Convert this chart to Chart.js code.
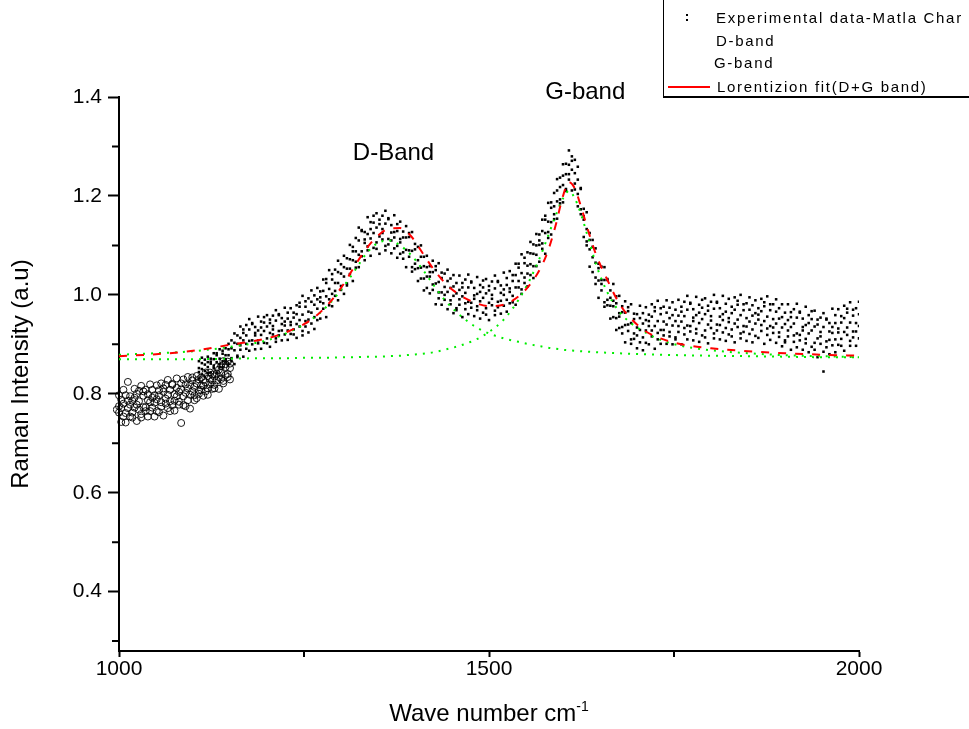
<!DOCTYPE html>
<html>
<head>
<meta charset="utf-8">
<title>Raman spectrum</title>
<script src="https://cdn.jsdelivr.net/npm/chart.js@4.4.1/dist/chart.umd.min.js"></script>
<style>
    html, body { margin: 0; padding: 0; background: #fff; overflow: hidden; }
    #wrap { position: relative; width: 969px; height: 729px; font-family: "Liberation Sans", Arial, sans-serif; }
    #chart { position: absolute; left: 0; top: 0; }
    .legend { position: absolute; left: 663px; top: 0; width: 320px; height: 96px; border-left: 1px solid #000; border-bottom: 2px solid #000; }
    .legend .row { position: absolute; left: 52px; font-size: 15px; letter-spacing: 1.7px; line-height: 20px; white-space: nowrap; color: #000; }
    .legend .dot { position: absolute; width: 2px; height: 2px; background: #000; }
    .legend .fitline { position: absolute; left: 4px; top: 86px; width: 42px; height: 2px; background: #ff0000; }
    .xtitle { position: absolute; left: 0; width: 978px; top: 699px; text-align: center; font-size: 24px; color: #000; white-space: nowrap; }
    .xtitle sup { font-size: 14px; vertical-align: 10px; line-height: 0; }
</style>
</head>
<body>
<div id="wrap">
    <canvas id="chart" width="969" height="729"></canvas>
    <div class="legend">
        <div class="dot" style="left:22px;top:14px"></div>
        <div class="dot" style="left:22px;top:19px"></div>
        <div class="row" style="top:8px">Experimental data-Matla Char</div>
        <div class="row" style="top:31px">D-band</div>
        <div class="row" style="top:53px;left:50px">G-band</div>
        <div class="fitline"></div>
        <div class="row" style="top:77px;left:53px">Lorentizion fit(D+G band)</div>
    </div>
    <div class="xtitle">Wave number cm<sup>-1</sup></div>
</div>
<script>
// axis ticks
const xTicks = [1000, 1500, 2000];
const xMinorTicks = [1250, 1750];
const yTicks = [0.4, 0.6, 0.8, 1.0, 1.2, 1.4];
const yMinorTicks = [0.3, 0.5, 0.7, 0.9, 1.1, 1.3];

// experimental data (black dots), four readings per wave number
const expWave = [
    1108, 1112, 1116, 1120, 1124, 1128, 1132, 1136, 1140, 1144, 1148, 1152, 1156, 1160, 1164, 1168, 1172, 1176, 1180, 1184,
    1188, 1192, 1196, 1200, 1204, 1208, 1212, 1216, 1220, 1224, 1228, 1232, 1236, 1240, 1244, 1248, 1252, 1256, 1260, 1264,
    1268, 1272, 1276, 1280, 1284, 1288, 1292, 1296, 1300, 1304, 1308, 1312, 1316, 1320, 1324, 1328, 1332, 1336, 1340, 1344,
    1348, 1352, 1356, 1360, 1364, 1368, 1372, 1376, 1380, 1384, 1388, 1392, 1396, 1400, 1404, 1408, 1412, 1416, 1420, 1424,
    1428, 1432, 1436, 1440, 1444, 1448, 1452, 1456, 1460, 1464, 1468, 1472, 1476, 1480, 1484, 1488, 1492, 1496, 1500, 1504,
    1508, 1512, 1516, 1520, 1524, 1528, 1532, 1536, 1540, 1544, 1548, 1552, 1556, 1560, 1564, 1568, 1572, 1576, 1580, 1584,
    1588, 1592, 1596, 1600, 1604, 1608, 1612, 1616, 1620, 1624, 1628, 1632, 1636, 1640, 1644, 1648, 1652, 1656, 1660, 1664,
    1668, 1672, 1676, 1680, 1684, 1688, 1692, 1696, 1700, 1704, 1708, 1712, 1716, 1720, 1724, 1728, 1732, 1736, 1740, 1744,
    1748, 1752, 1756, 1760, 1764, 1768, 1772, 1776, 1780, 1784, 1788, 1792, 1796, 1800, 1804, 1808, 1812, 1816, 1820, 1824,
    1828, 1832, 1836, 1840, 1844, 1848, 1852, 1856, 1860, 1864, 1868, 1872, 1876, 1880, 1884, 1888, 1892, 1896, 1900, 1904,
    1908, 1912, 1916, 1920, 1924, 1928, 1932, 1936, 1940, 1944, 1948, 1952, 1956, 1960, 1964, 1968, 1972, 1976, 1980, 1984,
    1988, 1992, 1996, 2000
];
const expIntensity = [
    [0.866, 0.844, 0.852, 0.831], [0.862, 0.850, 0.873, 0.839], [0.859, 0.846, 0.869, 0.834], [0.864, 0.854, 0.875, 0.842],
    [0.861, 0.871, 0.843, 0.865], [0.852, 0.882, 0.857, 0.870], [0.843, 0.878, 0.864, 0.882], [0.860, 0.871, 0.854, 0.890],
    [0.854, 0.881, 0.866, 0.887], [0.865, 0.892, 0.870, 0.878], [0.861, 0.890, 0.878, 0.901], [0.866, 0.892, 0.872, 0.908],
    [0.860, 0.903, 0.888, 0.922], [0.877, 0.901, 0.918, 0.874], [0.913, 0.889, 0.936, 0.898], [0.923, 0.875, 0.930, 0.908],
    [0.939, 0.901, 0.918, 0.891], [0.951, 0.887, 0.930, 0.907], [0.941, 0.900, 0.943, 0.908], [0.923, 0.890, 0.935, 0.918],
    [0.956, 0.902, 0.928, 0.908], [0.946, 0.891, 0.934, 0.919], [0.955, 0.903, 0.927, 0.944], [0.902, 0.936, 0.912, 0.959],
    [0.923, 0.943, 0.895, 0.950], [0.930, 0.958, 0.920, 0.937], [0.912, 0.969, 0.905, 0.948], [0.927, 0.959, 0.918, 0.961],
    [0.928, 0.941, 0.908, 0.953], [0.938, 0.974, 0.920, 0.946], [0.928, 0.964, 0.909, 0.952], [0.939, 0.973, 0.921, 0.945],
    [0.964, 0.920, 0.954, 0.930], [0.979, 0.941, 0.961, 0.913], [0.976, 0.949, 0.984, 0.936], [0.960, 0.927, 0.998, 0.918],
    [0.976, 0.947, 0.987, 0.936], [0.993, 0.950, 0.966, 0.924], [0.986, 0.964, 1.009, 0.942], [0.980, 0.955, 0.999, 0.931],
    [0.991, 0.972, 1.014, 0.949], [0.986, 1.007, 0.952, 0.995], [0.972, 1.031, 0.983, 1.008], [0.955, 1.024, 0.997, 1.032],
    [0.991, 1.012, 0.979, 1.050], [0.977, 1.031, 1.002, 1.042], [0.998, 1.051, 1.008, 1.024], [0.989, 1.046, 1.024, 1.069],
    [1.010, 1.043, 1.018, 1.062], [1.002, 1.056, 1.037, 1.079], [1.023, 1.053, 1.074, 1.019], [1.072, 1.042, 1.101, 1.053],
    [1.088, 1.028, 1.097, 1.070], [1.115, 1.067, 1.088, 1.055], [1.136, 1.056, 1.110, 1.081], [1.129, 1.078, 1.131, 1.088],
    [1.112, 1.070, 1.127, 1.105], [1.157, 1.090, 1.123, 1.098], [1.147, 1.079, 1.133, 1.114], [1.160, 1.095, 1.125, 1.146],
    [1.093, 1.136, 1.106, 1.165], [1.118, 1.143, 1.083, 1.152], [1.125, 1.160, 1.112, 1.133], [1.099, 1.170, 1.090, 1.144],
    [1.113, 1.153, 1.102, 1.155], [1.110, 1.126, 1.084, 1.141], [1.116, 1.161, 1.094, 1.127], [1.099, 1.143, 1.075, 1.129],
    [1.106, 1.148, 1.083, 1.113], [1.128, 1.073, 1.116, 1.086], [1.139, 1.091, 1.116, 1.056], [1.117, 1.090, 1.125, 1.077],
    [1.089, 1.056, 1.127, 1.047], [1.092, 1.063, 1.103, 1.052], [1.097, 1.054, 1.070, 1.028], [1.077, 1.055, 1.100, 1.033],
    [1.058, 1.033, 1.077, 1.009], [1.056, 1.037, 1.079, 1.014], [1.037, 1.058, 1.003, 1.046], [1.010, 1.069, 1.021, 1.046],
    [0.981, 1.050, 1.023, 1.058], [1.005, 1.026, 0.993, 1.064], [0.980, 1.034, 1.005, 1.045], [0.990, 1.043, 1.000, 1.016],
    [0.971, 1.028, 1.006, 1.051], [0.981, 1.014, 0.989, 1.033], [0.963, 1.017, 0.998, 1.040], [0.973, 1.003, 1.024, 0.969],
    [1.010, 0.980, 1.039, 0.991], [1.015, 0.955, 1.024, 0.997], [1.031, 0.983, 1.004, 0.971], [1.041, 0.961, 1.015, 0.986],
    [1.025, 0.974, 1.027, 0.984], [0.999, 0.957, 1.014, 0.992], [1.036, 0.969, 1.002, 0.977], [1.020, 0.952, 1.006, 0.987],
    [1.029, 0.964, 0.994, 1.015], [0.960, 1.003, 0.973, 1.032], [0.984, 1.009, 0.949, 1.018], [0.992, 1.027, 0.979, 1.000],
    [0.968, 1.039, 0.959, 1.013], [0.986, 1.026, 0.975, 1.028], [0.988, 1.004, 0.962, 1.019], [1.000, 1.045, 0.978, 1.011],
    [0.990, 1.034, 0.966, 1.020], [1.006, 1.048, 0.983, 1.013], [1.040, 0.985, 1.028, 0.998], [1.063, 1.015, 1.040, 0.980],
    [1.055, 1.028, 1.063, 1.015], [1.044, 1.011, 1.082, 1.002], [1.064, 1.035, 1.075, 1.024], [1.086, 1.043, 1.059, 1.017],
    [1.084, 1.062, 1.107, 1.040], [1.083, 1.058, 1.102, 1.034], [1.100, 1.081, 1.123, 1.058], [1.101, 1.122, 1.067, 1.110],
    [1.093, 1.152, 1.104, 1.129], [1.083, 1.152, 1.125, 1.160], [1.127, 1.148, 1.115, 1.186], [1.122, 1.176, 1.147, 1.187],
    [1.153, 1.206, 1.163, 1.179], [1.154, 1.211, 1.189, 1.234], [1.185, 1.218, 1.193, 1.237], [1.187, 1.241, 1.222, 1.264],
    [1.214, 1.244, 1.265, 1.210], [1.263, 1.233, 1.292, 1.244], [1.271, 1.211, 1.280, 1.253], [1.273, 1.225, 1.246, 1.213],
    [1.259, 1.179, 1.233, 1.204], [1.214, 1.163, 1.216, 1.173], [1.159, 1.117, 1.174, 1.152], [1.167, 1.100, 1.133, 1.108],
    [1.125, 1.057, 1.111, 1.092], [1.111, 1.046, 1.076, 1.097], [1.022, 1.065, 1.035, 1.094], [1.029, 1.054, 0.994, 1.063],
    [1.022, 1.057, 1.009, 1.030], [0.985, 1.056, 0.976, 1.030], [0.990, 1.030, 0.979, 1.032], [0.978, 0.994, 0.952, 1.009],
    [0.977, 1.022, 0.955, 0.988], [0.953, 0.997, 0.929, 0.983], [0.956, 0.998, 0.933, 0.963], [0.977, 0.922, 0.965, 0.935],
    [0.987, 0.939, 0.964, 0.904], [0.967, 0.940, 0.975, 0.927], [0.943, 0.910, 0.981, 0.901], [0.951, 0.922, 0.962, 0.911],
    [0.961, 0.918, 0.934, 0.892], [0.953, 0.929, 0.978, 0.904], [0.942, 0.914, 0.963, 0.888], [0.949, 0.928, 0.975, 0.903],
    [0.937, 0.960, 0.900, 0.947], [0.916, 0.981, 0.928, 0.956], [0.891, 0.967, 0.937, 0.975], [0.923, 0.947, 0.910, 0.988],
    [0.901, 0.961, 0.929, 0.973], [0.918, 0.976, 0.929, 0.946], [0.901, 0.964, 0.940, 0.989], [0.916, 0.953, 0.925, 0.974],
    [0.900, 0.959, 0.938, 0.985], [0.914, 0.947, 0.970, 0.910], [0.958, 0.925, 0.990, 0.937], [0.966, 0.900, 0.976, 0.946],
    [0.986, 0.933, 0.957, 0.920], [0.998, 0.910, 0.970, 0.938], [0.982, 0.926, 0.984, 0.937], [0.954, 0.908, 0.971, 0.947],
    [0.996, 0.922, 0.959, 0.931], [0.980, 0.905, 0.964, 0.943], [0.990, 0.918, 0.951, 0.974], [0.914, 0.961, 0.928, 0.993],
    [0.940, 0.968, 0.902, 0.978], [0.948, 0.986, 0.933, 0.957], [0.922, 1.000, 0.912, 0.972], [0.940, 0.984, 0.928, 0.986],
    [0.939, 0.956, 0.910, 0.973], [0.949, 0.998, 0.924, 0.961], [0.933, 0.982, 0.907, 0.966], [0.945, 0.992, 0.920, 0.953],
    [0.976, 0.916, 0.963, 0.930], [0.995, 0.942, 0.970, 0.904], [0.980, 0.950, 0.988, 0.935], [0.959, 0.922, 1.000, 0.912],
    [0.969, 0.937, 0.981, 0.925], [0.983, 0.936, 0.953, 0.907], [0.970, 0.946, 0.995, 0.921], [0.958, 0.930, 0.979, 0.904],
    [0.963, 0.942, 0.989, 0.917], [0.950, 0.973, 0.913, 0.960], [0.927, 0.992, 0.939, 0.967], [0.901, 0.977, 0.947, 0.985],
    [0.932, 0.956, 0.919, 0.997], [0.909, 0.969, 0.937, 0.981], [0.923, 0.981, 0.934, 0.951], [0.903, 0.966, 0.942, 0.991],
    [0.915, 0.952, 0.924, 0.973], [0.896, 0.955, 0.934, 0.981], [0.908, 0.941, 0.964, 0.904], [0.949, 0.916, 0.981, 0.928],
    [0.955, 0.889, 0.965, 0.935], [0.971, 0.918, 0.942, 0.905], [0.982, 0.894, 0.954, 0.922], [0.964, 0.908, 0.966, 0.919],
    [0.935, 0.889, 0.952, 0.928], [0.976, 0.902, 0.939, 0.911], [0.959, 0.884, 0.943, 0.922], [0.967, 0.895, 0.928, 0.951],
    [0.889, 0.936, 0.903, 0.968], [0.912, 0.940, 0.874, 0.950], [0.916, 0.954, 0.901, 0.925], [0.885, 0.963, 0.845, 0.935],
    [0.906, 0.950, 0.894, 0.952], [0.909, 0.926, 0.880, 0.943], [0.923, 0.972, 0.898, 0.935], [0.910, 0.959, 0.884, 0.943],
    [0.924, 0.971, 0.899, 0.932], [0.957, 0.897, 0.944, 0.911], [0.978, 0.925, 0.953, 0.887], [0.964, 0.934, 0.972, 0.919],
    [0.944, 0.907, 0.985, 0.897], [0.958, 0.926, 0.970, 0.914], [0.973, 0.926, 0.943, 0.897], [0.961, 0.937, 0.986, 0.912]
];

// low-wavenumber part drawn as open circles
const circleWave = [
    997, 1000, 1003, 1006, 1009, 1012, 1015, 1018, 1021, 1024, 1027, 1030, 1033, 1036, 1039, 1042, 1045, 1048,
    1051, 1054, 1057, 1060, 1063, 1066, 1069, 1072, 1075, 1078, 1081, 1084, 1087, 1090, 1093, 1096, 1099,
    1102, 1105, 1108, 1111, 1114, 1117, 1120, 1123, 1126, 1129, 1132, 1135, 1138, 1141, 1144, 1147, 1150
];
const circleIntensity = [
    [0.781, 0.752, 0.768], [0.797, 0.762, 0.775], [0.743, 0.788, 0.771], [0.808, 0.754, 0.780], [0.761, 0.797, 0.742],
    [0.786, 0.771, 0.824], [0.754, 0.778, 0.795], [0.752, 0.786, 0.762], [0.810, 0.772, 0.792], [0.745, 0.800, 0.778],
    [0.806, 0.768, 0.785], [0.759, 0.816, 0.752], [0.796, 0.773, 0.805], [0.765, 0.808, 0.773], [0.787, 0.754, 0.799],
    [0.783, 0.819, 0.765], [0.792, 0.772, 0.808], [0.754, 0.797, 0.782], [0.817, 0.765, 0.789], [0.807, 0.763, 0.797],
    [0.774, 0.821, 0.783], [0.804, 0.756, 0.811], [0.790, 0.818, 0.780], [0.798, 0.771, 0.828], [0.765, 0.808, 0.785],
    [0.818, 0.777, 0.820], [0.786, 0.799, 0.766], [0.812, 0.795, 0.831], [0.778, 0.804, 0.784], [0.821, 0.741, 0.809],
    [0.795, 0.829, 0.777], [0.802, 0.819, 0.775], [0.811, 0.787, 0.834], [0.798, 0.818, 0.770], [0.827, 0.805, 0.833],
    [0.797, 0.814, 0.787], [0.836, 0.791, 0.821], [0.807, 0.829, 0.800], [0.833, 0.808, 0.817], [0.796, 0.828, 0.816],
    [0.843, 0.805, 0.823], [0.811, 0.836, 0.798], [0.830, 0.819, 0.843], [0.810, 0.827, 0.839], [0.811, 0.835, 0.818],
    [0.854, 0.827, 0.841], [0.810, 0.849, 0.834], [0.856, 0.830, 0.842], [0.826, 0.866, 0.821], [0.854, 0.838, 0.860],
    [0.834, 0.865, 0.840], [0.852, 0.829, 0.861]
];

// Lorentzian fit and its two components
const fitWave = [1000, 1050, 1100, 1150, 1200, 1230, 1260, 1285, 1305, 1320, 1335, 1350, 1365, 1380, 1395, 1410, 1425,
    1440, 1460, 1480, 1500, 1520, 1540, 1555, 1570, 1580, 1590, 1600, 1608, 1616, 1625, 1635, 1645, 1660, 1675, 1690,
    1710, 1730, 1760, 1800, 1850, 1900, 1950, 2000];
const fitTotal = [0.876, 0.880, 0.887, 0.899, 0.912, 0.927, 0.950, 0.985, 1.025, 1.062, 1.095, 1.120, 1.134, 1.135,
    1.118, 1.085, 1.052, 1.025, 1.000, 0.985, 0.977, 0.980, 0.997, 1.020, 1.055, 1.090, 1.140, 1.200, 1.228, 1.215,
    1.175, 1.125, 1.080, 1.030, 0.985, 0.955, 0.928, 0.913, 0.900, 0.892, 0.886, 0.882, 0.879, 0.877];
const fitDBand = [0.879, 0.882, 0.886, 0.895, 0.908, 0.925, 0.950, 0.983, 1.020, 1.052, 1.085, 1.105, 1.110, 1.100,
    1.080, 1.052, 1.020, 0.990, 0.960, 0.937, 0.922, 0.912, 0.905, 0.900, 0.896, 0.893, 0.891, 0.889, 0.888, 0.887,
    0.886, 0.885, 0.884, 0.883, 0.882, 0.881, 0.880, 0.879, 0.878, 0.877, 0.876, 0.875, 0.874, 0.874];
const fitGBand = [0.870, 0.870, 0.870, 0.871, 0.872, 0.872, 0.873, 0.873, 0.874, 0.874, 0.875, 0.875, 0.876, 0.877,
    0.879, 0.881, 0.884, 0.889, 0.897, 0.908, 0.925, 0.950, 0.990, 1.030, 1.080, 1.120, 1.160, 1.195, 1.210, 1.195,
    1.160, 1.110, 1.060, 1.005, 0.968, 0.945, 0.925, 0.910, 0.897, 0.888, 0.882, 0.878, 0.876, 0.874];

// band labels, placed at (wave number, intensity)
const bandLabels = ['D-Band', 'G-band'];
const bandLabelWave = [1316, 1576];
const bandLabelValue = [1.287, 1.41];

function toPoints(waves, rows) {
    const pts = [];
    waves.forEach(function (w, i) {
        (rows[i] || []).forEach(function (v) { pts.push({ x: w, y: v }); });
    });
    return pts;
}

function toLine(waves, values) {
    return waves.map(function (w, i) { return { x: w, y: values[i] }; });
}

const fontName = '"Liberation Sans", Arial, sans-serif';

// minor tick marks on both axes
const minorTicks = {
    id: 'minorTicks',
    afterDraw: function (chart) {
        const c = chart.ctx;
        const area = chart.chartArea;
        c.save();
        c.strokeStyle = '#000';
        c.lineWidth = 2;
        c.beginPath();
        yMinorTicks.forEach(function (v) {
            const p = chart.scales.y.getPixelForValue(v);
            c.moveTo(area.left - 7, p);
            c.lineTo(area.left, p);
        });
        xMinorTicks.forEach(function (v) {
            const p = chart.scales.x.getPixelForValue(v);
            c.moveTo(p, area.bottom);
            c.lineTo(p, area.bottom + 6);
        });
        c.stroke();
        c.restore();
    }
};

// the "D-Band" / "G-band" text
const bandText = {
    id: 'bandText',
    afterDraw: function (chart) {
        const c = chart.ctx;
        c.save();
        c.fillStyle = '#000';
        c.font = '24px ' + fontName;
        c.textAlign = 'left';
        c.textBaseline = 'middle';
        bandLabels.forEach(function (t, i) {
            c.fillText(t, chart.scales.x.getPixelForValue(bandLabelWave[i]), chart.scales.y.getPixelForValue(bandLabelValue[i]));
        });
        c.restore();
    }
};

const ctx = document.getElementById('chart');
new Chart(ctx, {
    type: 'scatter',
    data: {
        datasets: [{
            label: 'Lorentizion fit(D+G band)',
            data: toLine(fitWave, fitTotal),
            showLine: true,
            borderColor: '#ff0000',
            borderWidth: 2,
            borderDash: [8, 9],
            pointRadius: 0,
            cubicInterpolationMode: 'monotone',
            order: 0
        }, {
            label: 'D-band',
            data: toLine(fitWave, fitDBand),
            showLine: true,
            borderColor: '#00ee00',
            borderWidth: 2,
            borderDash: [2, 6],
            pointRadius: 0,
            cubicInterpolationMode: 'monotone',
            order: 1
        }, {
            label: 'G-band',
            data: toLine(fitWave, fitGBand),
            showLine: true,
            borderColor: '#00ee00',
            borderWidth: 2,
            borderDash: [2, 6],
            pointRadius: 0,
            cubicInterpolationMode: 'monotone',
            order: 1
        }, {
            label: 'Experimental data (low range)',
            data: toPoints(circleWave, circleIntensity),
            pointStyle: 'circle',
            pointRadius: 3.5,
            borderWidth: 0.9,
            borderColor: '#000',
            backgroundColor: 'rgba(255,255,255,0)',
            clip: 6,
            order: 2
        }, {
            label: 'Experimental data-Matla Char',
            data: toPoints(expWave, expIntensity),
            pointStyle: 'rect',
            pointRadius: 1.8,
            borderWidth: 0,
            backgroundColor: '#000',
            order: 3
        }]
    },
    options: {
        responsive: false,
        animation: false,
        events: [],
        layout: { padding: { left: 0, top: 97, right: 110, bottom: 0 } },
        plugins: {
            legend: { display: false },
            tooltip: { enabled: false }
        },
        scales: {
            x: {
                type: 'linear',
                min: 1000,
                max: 2000,
                afterFit: function (s) { s.height = 78; },
                afterBuildTicks: function (s) { s.ticks = xTicks.map(function (v) { return { value: v }; }); },
                border: { color: '#000', width: 2 },
                grid: { drawOnChartArea: false, drawTicks: true, tickLength: 6, tickWidth: 2, tickColor: '#000' },
                ticks: {
                    color: '#000',
                    padding: 0,
                    maxRotation: 0,
                    font: { family: fontName, size: 21 },
                    callback: function (v) { return String(v); }
                }
            },
            y: {
                min: 0.28,
                max: 1.4,
                afterFit: function (s) { s.width = 119; },
                afterBuildTicks: function (s) { s.ticks = yTicks.map(function (v) { return { value: v }; }); },
                border: { color: '#000', width: 2 },
                grid: { drawOnChartArea: false, drawTicks: true, tickLength: 11, tickWidth: 2, tickColor: '#000' },
                ticks: {
                    color: '#000',
                    padding: 6,
                    font: { family: fontName, size: 21 },
                    callback: function (v) { return v.toFixed(1); }
                },
                title: {
                    display: true,
                    text: 'Raman Intensity (a.u)',
                    color: '#000',
                    font: { family: fontName, size: 24 },
                    padding: { top: 7, bottom: 0 }
                }
            }
        }
    },
    plugins: [minorTicks, bandText]
});
</script>
</body>
</html>
